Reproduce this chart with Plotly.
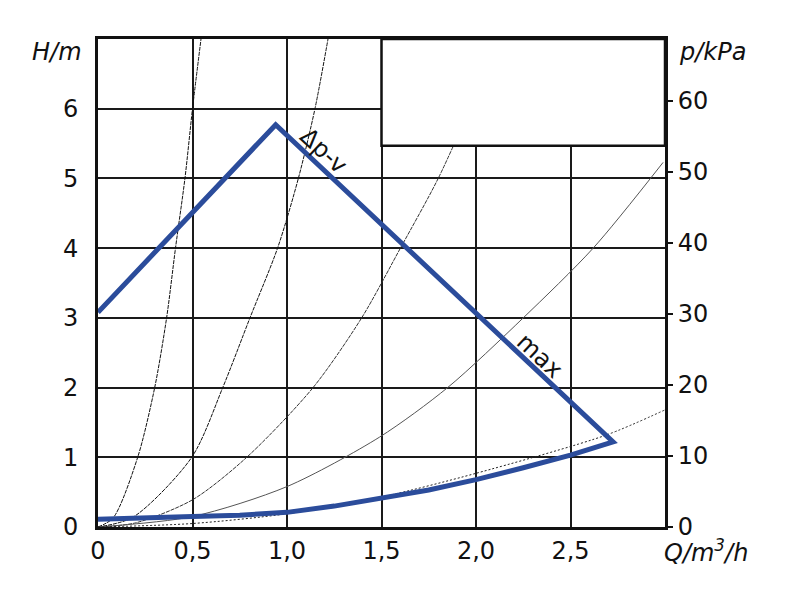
import plotly.graph_objects as go

# ---- data ----
x_ticks = [0, 0.5, 1.0, 1.5, 2.0, 2.5]
x_ticklabels = ["0", "0,5", "1,0", "1,5", "2,0", "2,5"]
h_ticks = [0, 1, 2, 3, 4, 5, 6]
h_ticklabels = ["0", "1", "2", "3", "4", "5", "6"]
p_ticks = [0, 10, 20, 30, 40, 50, 60]
p_ticklabels = ["0", "10", "20", "30", "40", "50", "60"]

# system curves (Q in m3/h, H in m)
curveA_q = [0.0, 0.08, 0.21, 0.30, 0.363, 0.41, 0.46, 0.50, 0.545]
curveA_h = [0.0, 0.13, 1.0, 2.0, 3.0, 4.0, 5.0, 6.0, 7.0]
curveB_q = [0.0, 0.185, 0.496, 0.66, 0.804, 0.95, 1.06, 1.148, 1.217]
curveB_h = [0.0, 0.14, 1.0, 2.0, 3.0, 4.0, 5.0, 6.0, 7.0]
curveC_q = [0.0, 0.2, 0.5, 0.787, 1.138, 1.395, 1.60, 1.80, 2.0]
curveC_h = [0.0, 0.06, 0.39, 1.0, 2.0, 3.0, 4.0, 5.0, 6.2]
curveD_q = [0.0, 0.5, 1.0, 1.49, 1.85, 2.25, 2.62, 2.99]
curveD_h = [0.0, 0.15, 0.58, 1.29, 2.0, 3.0, 4.0, 5.23]
curveE_q = [0.0, 0.5, 1.0, 1.5, 2.0, 2.69, 3.0]
curveE_h = [0.0, 0.05, 0.19, 0.43, 0.77, 1.32, 1.68]

# pump operating range (delta p-v ... max)
pump_q = [0.0, 0.94, 2.725, 2.5, 2.25, 2.0, 1.75, 1.5, 1.25, 1.0, 0.75, 0.5, 0.25, 0.0]
pump_h = [3.08, 5.77, 1.22, 1.03, 0.85, 0.68, 0.53, 0.41, 0.30, 0.21, 0.17, 0.15, 0.13, 0.11]

H_MAX = 7.0
KPA_PER_M = 9.81

FONT = "DejaVu Sans"
BLUE = "#2B4C9B"

fig = go.Figure()

thin = [
    (curveA_q, curveA_h, "4px,1px", "#111111"),
    (curveB_q, curveB_h, "4px,1px", "#111111"),
    (curveC_q, curveC_h, "4px,1px", "#333333"),
    (curveD_q, curveD_h, "solid", "#555555"),
    (curveE_q, curveE_h, "2px,2px", "#222222"),
]
for q, h, dash, col in thin:
    fig.add_trace(go.Scatter(x=q, y=h, mode="lines",
                             line=dict(color=col, width=1, dash=dash, shape="spline", smoothing=0.8),
                             hoverinfo="skip", showlegend=False))

fig.add_trace(go.Scatter(x=pump_q, y=pump_h, mode="lines",
                         line=dict(color=BLUE, width=5),
                         hoverinfo="skip", showlegend=False))

# dummy trace on the right axis
fig.add_trace(go.Scatter(x=[0], y=[0], yaxis="y2", mode="markers",
                         marker=dict(opacity=0), hoverinfo="skip", showlegend=False))

fig.update_layout(
    width=807, height=601,
    margin=dict(l=98, r=142, t=39, b=74),
    paper_bgcolor="white", plot_bgcolor="white",
    font=dict(family=FONT, size=24, color="#111111"),
    showlegend=False,
    xaxis=dict(range=[0, 3.0], tickvals=x_ticks, ticktext=x_ticklabels,
               showgrid=True, gridcolor="#1a1a1a", gridwidth=1.5,
               showline=True, linecolor="#111111", linewidth=3, mirror=True,
               zeroline=False, ticks="", fixedrange=True),
    yaxis=dict(range=[0, H_MAX], tickvals=h_ticks, ticktext=h_ticklabels,
               showgrid=True, gridcolor="#1a1a1a", gridwidth=1.5,
               showline=True, linecolor="#111111", linewidth=3, mirror=True,
               zeroline=False, ticks="", ticklabelstandoff=12, fixedrange=True),
    yaxis2=dict(range=[0, H_MAX * KPA_PER_M], tickvals=p_ticks, ticktext=p_ticklabels,
                overlaying="y", side="right", showgrid=False, zeroline=False,
                showline=False, ticks="outside", ticklen=7, tickwidth=2, tickcolor="#111111",
                fixedrange=True),
)

fig.add_shape(type="rect", xref="x", yref="y", x0=1.5, x1=3.0, y0=5.47, y1=7.0,
              fillcolor="white", line=dict(color="#111111", width=2.5), layer="above")

fig.add_annotation(x=0, xref="paper", xanchor="right", xshift=-14, y=6.81, yref="y",
                   text="<i>H/m</i>", showarrow=False, font=dict(size=24))
fig.add_annotation(x=1, xref="paper", xanchor="left", xshift=12, y=6.81, yref="y",
                   text="<i>p/kPa</i>", showarrow=False, font=dict(size=24))
fig.add_annotation(x=3.0, xref="x", xanchor="left", xshift=-3, y=0, yref="paper",
                   yanchor="top", yshift=-6,
                   text="<i>Q/m<sup>3</sup>/h</i>", showarrow=False, font=dict(size=24))
fig.add_annotation(x=1.196, y=5.40, text="Δp-v", showarrow=False, textangle=43,
                   font=dict(size=24))
fig.add_annotation(x=2.34, y=2.46, text="max", showarrow=False, textangle=43,
                   font=dict(size=24))

fig.write_html("out.html")
